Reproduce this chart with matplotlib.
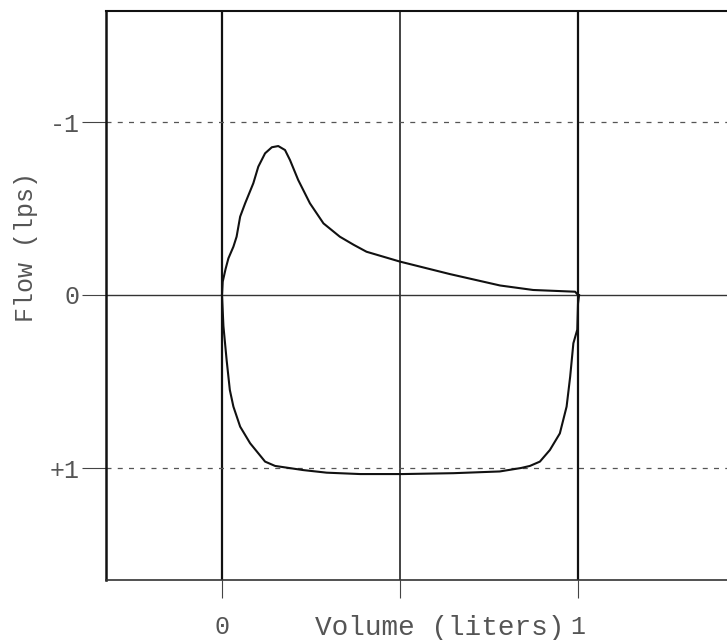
import matplotlib
matplotlib.use("Agg")
import matplotlib.pyplot as plt

# ── Data ────────────────────────────────────────────────────────
vol_exp = [0.0, 0.002, 0.01, 0.018, 0.032, 0.041, 0.051, 0.065, 0.088,
           0.102, 0.121, 0.14, 0.158, 0.177, 0.191, 0.214, 0.247, 0.285,
           0.331, 0.37, 0.406, 0.5, 0.64, 0.781, 0.874, 0.992, 1.0]
flow_exp = [0.0, -0.077, -0.15, -0.212, -0.279, -0.337, -0.453, -0.53, -0.646,
            -0.742, -0.819, -0.854, -0.861, -0.838, -0.78, -0.665, -0.53, -0.414,
            -0.337, -0.29, -0.25, -0.193, -0.121, -0.055, -0.029, -0.019, 0.0]

vol_insp = [0.0, 0.004, 0.013, 0.022, 0.032, 0.051, 0.079, 0.121, 0.149,
            0.228, 0.294, 0.388, 0.508, 0.65, 0.78, 0.84, 0.865, 0.893,
            0.921, 0.949, 0.968, 0.978, 0.987, 0.998, 1.0, 1.003]
flow_insp = [0.0, 0.18, 0.376, 0.549, 0.645, 0.761, 0.857, 0.963, 0.988,
             1.012, 1.027, 1.035, 1.035, 1.03, 1.02, 1.0, 0.988, 0.963,
             0.896, 0.8, 0.645, 0.472, 0.279, 0.2, 0.05, 0.0]

x_ticks = [0, 0.5, 1]
x_labels = ["0", "", "1"]
y_ticks = [-1, 0, 1]
y_labels = ["-1", "0", "+1"]

FONT = "Liberation Mono"
TEXT = "#555555"
INK = "#111111"

W, H = 727, 640
fig = plt.figure(figsize=(W / 100, H / 100), dpi=100, facecolor="white")
ax = fig.add_axes([106 / W, 60 / H, 1 - 106 / W, (629 - 60) / H])

# axes limits: 0 -> px 222, 1 -> px 578 ; flow 0 -> py 295, 173 px per unit
ax.set_xlim((106 - 222) / 356, (727 - 222) / 356)
ax.set_ylim((580 - 295) / 173, (11 - 295) / 173)

# reference lines
ax.axvline(0, color=INK, lw=1.6, zorder=2)
ax.axvline(0.5, color=INK, lw=1.1, zorder=2)
ax.axvline(1, color=INK, lw=1.6, zorder=2)
ax.axhline(0, color="#333333", lw=1.0, zorder=2)
for yv in (-1, 1):
    ax.axhline(yv, color="#555555", lw=0.9, ls=(0, (4, 5)), zorder=2)

# flow-volume loop
ax.plot(vol_exp, flow_exp, color=INK, lw=1.5, zorder=3,
        solid_joinstyle="round")
ax.plot(vol_insp, flow_insp, color=INK, lw=1.5, zorder=3,
        solid_joinstyle="round")

# spines
ax.spines["right"].set_visible(False)
ax.spines["left"].set_linewidth(1.8)
ax.spines["left"].set_color(INK)
ax.spines["top"].set_linewidth(1.5)
ax.spines["top"].set_color(INK)
ax.spines["bottom"].set_linewidth(1.2)
ax.spines["bottom"].set_color("#333333")

# ticks
ax.set_xticks(x_ticks)
ax.set_xticklabels(x_labels)
ax.set_yticks(y_ticks)
ax.set_yticklabels(y_labels)
ax.tick_params(axis="x", direction="out", length=13, width=0.8, color="#444444",
               pad=12, labelsize=18, labelcolor=TEXT)
ax.tick_params(axis="y", direction="out", length=17, width=0.8, color="#444444",
               pad=2, labelsize=18, labelcolor=TEXT)
for lab in ax.get_xticklabels() + ax.get_yticklabels():
    lab.set_fontfamily(FONT)

# axis titles placed as in the reference
fig.text(440 / W, 1 - 628 / H, "Volume (liters)", ha="center", va="center",
         fontsize=20, color=TEXT, fontfamily=FONT)
fig.text(26 / W, 1 - 247 / H, "Flow (lps)", ha="center", va="center",
         rotation=90, fontsize=18, color=TEXT, fontfamily=FONT)

fig.savefig("out.png", dpi=100, facecolor="white")
